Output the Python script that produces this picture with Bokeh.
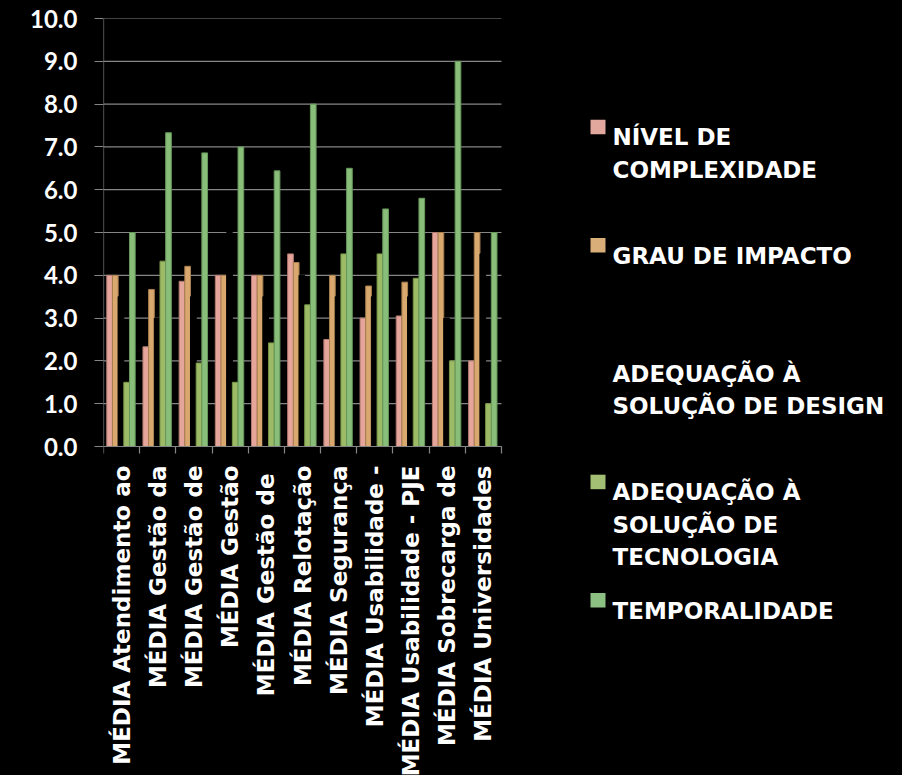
from math import pi
from bokeh.plotting import figure
from bokeh.models import ColumnDataSource, Range1d, FixedTicker, PrintfTickFormatter
from bokeh.transform import dodge
from bokeh.embed import file_html
from bokeh.resources import INLINE
from bokeh.core.properties import value

# ---------------- data ----------------
categories = [
    "MÉDIA Atendimento ao",
    "MÉDIA Gestão da",
    "MÉDIA Gestão de",
    "MÉDIA Gestão",
    "MÉDIA Gestão de ",
    "MÉDIA Relotação",
    "MÉDIA Segurança",
    "MÉDIA Usabilidade -",
    "MÉDIA Usabilidade - PJE",
    "MÉDIA Sobrecarga de",
    "MÉDIA Universidades",
]
series_names = [
    "NÍVEL DE COMPLEXIDADE",
    "GRAU DE IMPACTO",
    "ADEQUAÇÃO À SOLUÇÃO DE DESIGN",
    "ADEQUAÇÃO À SOLUÇÃO DE TECNOLOGIA",
    "TEMPORALIDADE",
]
nivel_complexidade = [4.0, 2.33, 3.86, 4.0, 4.0, 4.5, 2.5, 3.0, 3.05, 5.0, 2.0]
grau_impacto = [4.0, 3.67, 4.21, 4.0, 4.0, 4.3, 4.0, 3.75, 3.84, 5.0, 5.0]
adequacao_design = [3.5, 3.0, 3.5, 5.0, 3.5, 4.0, 3.5, 3.5, 3.5, 3.0, 4.5]
adequacao_tecnologia = [1.5, 4.33, 1.95, 1.5, 2.42, 3.31, 4.5, 4.5, 3.93, 2.0, 1.0]
temporalidade = [5.0, 7.33, 6.86, 7.0, 6.44, 8.0, 6.5, 5.55, 5.8, 9.0, 5.0]
y_ticks = [0, 1, 2, 3, 4, 5, 6, 7, 8, 9, 10]

legend_lines = [
    ["NÍVEL DE", "COMPLEXIDADE"],
    ["GRAU DE IMPACTO"],
    ["ADEQUAÇÃO À", "SOLUÇÃO DE DESIGN"],
    ["ADEQUAÇÃO À", "SOLUÇÃO DE", "TECNOLOGIA"],
    ["TEMPORALIDADE"],
]

# ---------------- styles / layout ----------------
fills = ["#E5A59A", "#D8A86F", "#000000", "#9DBB66", "#88BD7A"]
edges = ["#B27B72", "#A87E4E", "#000000", "#789646", "#66985A"]
swatch = ["#E2A89E", "#D9AE78", None, "#A3BF73", "#8CC082"]
FONT = "DejaVu Sans"
GRID = "#868686"

W, H = 902, 775
FRAME_L, FRAME_T, AXIS_Y = 103, 18, 446      # page pixels
n = len(categories)
UX = 398.0 / n            # pixels per category
UY = (AXIS_Y - FRAME_T) / 10.0   # pixels per unit


def dx(px):   # page x pixel -> data x
    return (px - FRAME_L) / UX


def dy(py):   # page y pixel -> data y
    return (AXIS_Y - py) / UY


src = ColumnDataSource(dict(
    x=[i + 0.5 for i in range(n)],
    s0=nivel_complexidade,
    s1=grau_impacto,
    s2=adequacao_design,
    s3=adequacao_tecnologia,
    s4=temporalidade,
))

p = figure(width=W, height=H,
           x_range=Range1d(0, dx(W)), y_range=Range1d(dy(H), 10),
           output_backend="svg", toolbar_location=None,
           background_fill_color="black", border_fill_color="black",
           outline_line_color=None,
           min_border_left=FRAME_L, min_border_right=0, min_border_top=FRAME_T, min_border_bottom=0)
p.styles = {"background-color": "black"}
p.grid.visible = False

# horizontal gridlines over the category span only, and the value-axis rule
p.segment(x0=[0] * len(y_ticks), x1=[n] * len(y_ticks), y0=y_ticks, y1=y_ticks,
          line_color=GRID, line_width=1.2)
p.segment(x0=[0], x1=[0], y0=[y_ticks[0]], y1=[y_ticks[-1]], line_color=GRID, line_width=1.2)

bw = 0.157
offs = [-2 * bw, -bw, 0, bw, 2 * bw]
for k in range(5):
    p.vbar(x=dodge("x", offs[k] - 0.017, range=p.x_range), top="s%d" % k, width=bw,
           source=src, fill_color=fills[k], line_color=edges[k], line_width=1)

# y axis
p.yaxis.bounds = (0, 10)
p.yaxis.ticker = FixedTicker(ticks=y_ticks)
p.yaxis.formatter = PrintfTickFormatter(format="%.1f")
p.yaxis.axis_line_color = None
p.yaxis.major_tick_line_color = GRID
p.yaxis.major_tick_line_width = 1.2
p.yaxis.major_tick_out = 9
p.yaxis.major_tick_in = 0
p.yaxis.minor_tick_line_color = None
p.yaxis.major_label_standoff = 17
p.yaxis.major_label_text_color = "white"
p.yaxis.major_label_text_font = "Lato"
p.yaxis.major_label_text_font_style = "bold"
p.yaxis.major_label_text_font_size = "24px"

# x axis at y = 0, ticks at category boundaries, labels at centres
p.xaxis.fixed_location = 0
p.xaxis.bounds = (0, n)
p.xaxis.ticker = FixedTicker(ticks=[i + 0.5 for i in range(n)], minor_ticks=list(range(n + 1)))
p.xaxis.major_label_overrides = {i + 0.5: categories[i] for i in range(n)}
p.xaxis.major_label_orientation = pi / 2
p.xaxis.major_tick_line_color = None
p.xaxis.major_tick_out = 7
p.xaxis.major_tick_in = 0
p.xaxis.minor_tick_line_color = GRID
p.xaxis.minor_tick_line_width = 1.2
p.xaxis.minor_tick_out = 7
p.xaxis.minor_tick_in = 0
p.xaxis.axis_line_color = GRID
p.xaxis.axis_line_width = 1.2
p.xaxis.major_label_standoff = 12
p.xaxis.major_label_text_color = "white"
p.xaxis.major_label_text_font = FONT
p.xaxis.major_label_text_font_style = "bold"
p.xaxis.major_label_text_font_size = "23px"

# ---------------- legend ----------------
slot0, slot = 119.3, 118.3
tx, lh = 612, 32.3
for k in range(5):
    top = slot0 + slot * k
    if swatch[k]:
        p.quad(left=[dx(590)], right=[dx(605)], top=[dy(top)], bottom=[dy(top + 14.5)],
               fill_color=swatch[k], line_color=None)
    lines = legend_lines[k]
    p.text(x=[dx(tx)] * len(lines), y=[dy(top + 17.5 + lh * j) for j in range(len(lines))],
           text=lines, text_color="white", text_font=value(FONT), text_font_style="bold",
           text_font_size="23px", text_baseline="alphabetic", text_align="left")

open("out.html", "w").write(file_html(p, INLINE))
